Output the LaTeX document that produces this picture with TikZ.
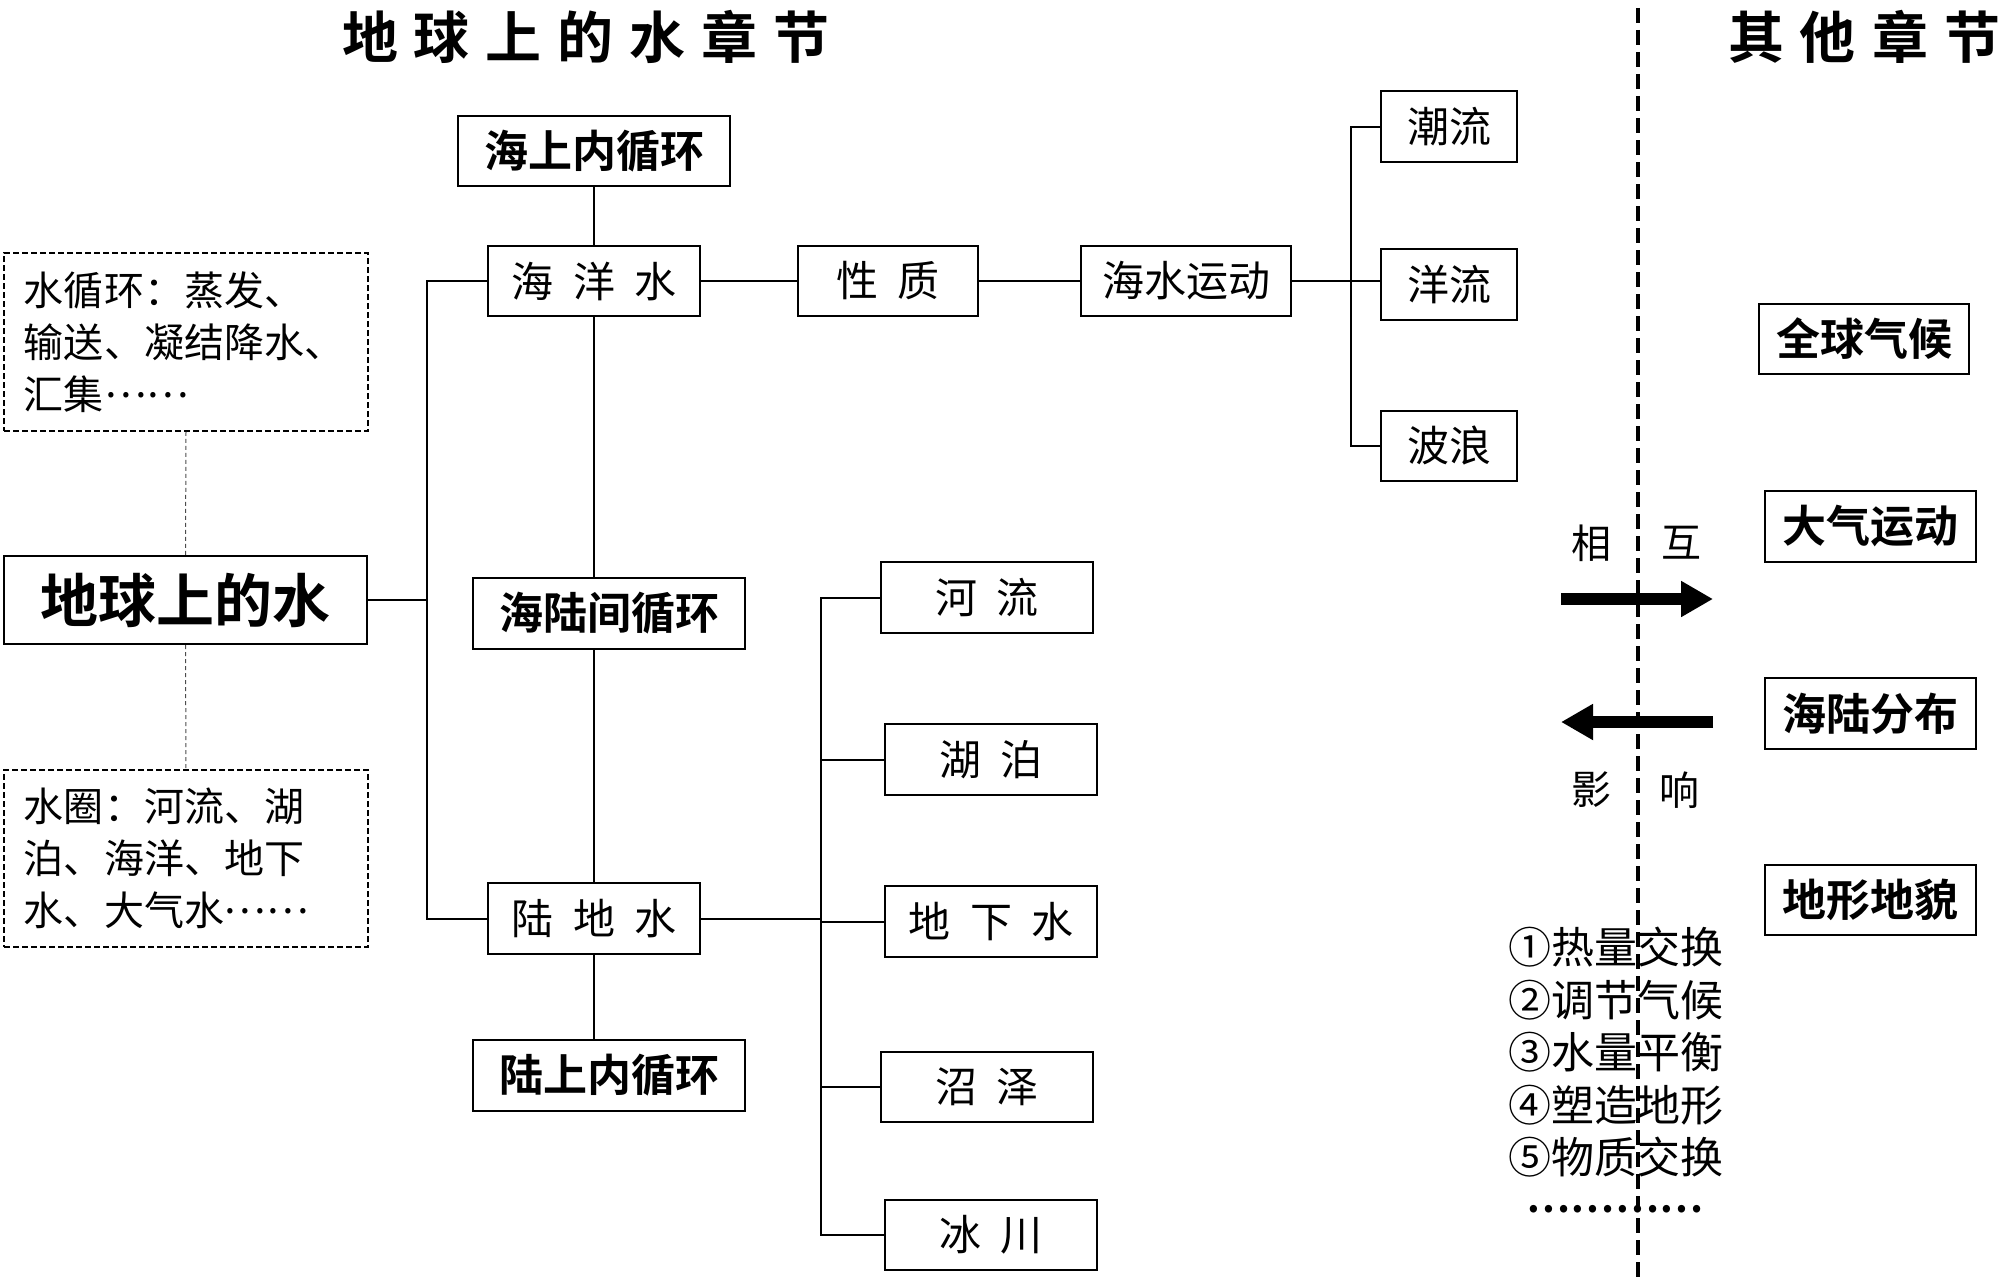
\documentclass[tikz,border=0pt]{standalone}
\usepackage{fontspec}
\setmainfont{Noto Sans CJK SC}[BoldFont={Noto Sans CJK SC Bold}]
\usetikzlibrary{arrows.meta}
\newcommand\kg{\hspace{0.47em}}
\newcommand\tg{\hspace{8pt}}
\newcommand\middots{\raisebox{0.3em}{……}}
\begin{document}
\begin{tikzpicture}[x=0.5pt,y=-0.5pt,
  box/.style={draw, line width=1.2pt, inner sep=0pt, font=\fontsize{21}{21}\selectfont},
  bbox/.style={box, font=\fontsize{22}{22}\selectfont\bfseries},
  conn/.style={line width=1pt},
  thindash/.style={line width=0.5pt, draw=black!70, dash pattern=on 2pt off 1.5pt},
  notebox/.style={draw, line width=0.8pt, dash pattern=on 3pt off 1.5pt, inner xsep=10pt, inner ysep=0pt,
    text width=162pt, align=left, font=\fontsize{20}{26}\selectfont},
  divider/.style={line width=2.2pt, dash pattern=on 7.5pt off 3.5pt},
  bigarrow/.style={line width=6pt, -{Triangle[length=16pt,width=17pt]}},
  title/.style={font=\fontsize{28}{28}\selectfont\bfseries, inner sep=0pt},
  lbl/.style={font=\fontsize{20}{20}\selectfont, inner sep=0pt}
]
\useasboundingbox (0,0) rectangle (2000,1279);

% titles
\node[title] (t1) at (586,37) {地\tg 球\tg 上\tg 的\tg 水\tg 章\tg 节};
\node[title] (t2) at (1864,37) {其\tg 他\tg 章\tg 节};

% divider
\coordinate (dtop) at (1638,8);
\coordinate (dbot) at (1638,1279);
\draw[divider] (dtop) -- (dbot);

% left notes and root
\node[notebox, minimum height=89pt] (sxh) at (186,342) {水循环：蒸发、\\输送、凝结降水、\\汇集\middots};
\node[bbox, minimum width=181.5pt, minimum height=44pt, font=\fontsize{29}{29}\selectfont\bfseries] (root) at (185.5,600) {地球上的水};
\node[notebox, minimum height=88.5pt] (sq) at (186,858.5) {水圈：河流、湖\\泊、海洋、地下\\水、大气水\middots};

% main column
\node[bbox, minimum width=136pt, minimum height=35pt] (hs) at (594,151) {海上内循环};
\node[box, minimum width=106pt, minimum height=35pt] (hy) at (594,281) {海\kg 洋\kg 水};
\node[bbox, minimum width=136pt, minimum height=35.5pt] (hlj) at (609,613.5) {海陆间循环};
\node[box, minimum width=106pt, minimum height=35.5pt] (ld) at (594,918.5) {陆\kg 地\kg 水};
\node[bbox, minimum width=136pt, minimum height=35.5pt] (ls) at (609,1075.5) {陆上内循环};

% ocean branch
\node[box, minimum width=90pt, minimum height=35pt] (xz) at (888,281) {性\kg 质};
\node[box, minimum width=105pt, minimum height=35pt] (hsyd) at (1186,281) {海水运动};
\node[box, minimum width=68pt, minimum height=35.5pt] (cl) at (1449,126.5) {潮流};
\node[box, minimum width=68pt, minimum height=35.5pt] (yl) at (1449,284.5) {洋流};
\node[box, minimum width=68pt, minimum height=35pt] (bl) at (1449,446) {波浪};

% land branch
\node[box, minimum width=106pt, minimum height=35.5pt] (hl2) at (987,597.5) {河\kg 流};
\node[box, minimum width=106pt, minimum height=35.5pt] (hp) at (991,759.5) {湖\kg 泊};
\node[box, minimum width=106pt, minimum height=35.5pt] (dxs) at (991,921.5) {地\kg 下\kg 水};
\node[box, minimum width=106pt, minimum height=35pt] (zz) at (987,1087) {沼\kg 泽};
\node[box, minimum width=106pt, minimum height=35pt] (bc) at (991,1235) {冰\kg 川};

% other chapters
\node[bbox, minimum width=105pt, minimum height=35pt] (qq) at (1864,339) {全球气候};
\node[bbox, minimum width=105.5pt, minimum height=35.5pt] (dq) at (1870.5,526.5) {大气运动};
\node[bbox, minimum width=105.5pt, minimum height=35.5pt] (hlfb) at (1870.5,713.5) {海陆分布};
\node[bbox, minimum width=105.5pt, minimum height=35pt] (dx) at (1870.5,900) {地形地貌};

% interaction labels and arrows
\node[lbl] (xiang) at (1591,543) {相};
\node[lbl] (hu) at (1681,543) {互};
\node[lbl] (ying) at (1591,790) {影};
\node[lbl] (xiang2) at (1679,790) {响};
\coordinate (r1) at (1561,599);
\coordinate (r2) at (1713,599);
\draw[bigarrow] (r1) -- (r2);
\coordinate (l1) at (1713,722);
\coordinate (l2) at (1561,722);
\draw[bigarrow] (l1) -- (l2);

\node[align=left, inner sep=0pt, font=\fontsize{21.5}{26.25}\selectfont] (list) at (1616,1052.5)
  {①热量交换\\②调节气候\\③水量平衡\\④塑造地形\\⑤物质交换};
\node[inner sep=0pt, font=\fontsize{20}{20}\selectfont\bfseries] (dots) at (1615,1209) {…………};

% connectors
\draw[thindash] (sxh.south) -- (root.north);
\draw[thindash] (root.south) -- (sq.north);
\coordinate (tx) at (427,600);
\draw[conn] (root.east) -- (tx);
\draw[conn] (hy.west) -| (tx) |- (ld.west);
\draw[conn] (hs) -- (hy);
\draw[conn] (hy.south) -- (hy.south |- hlj.north);
\draw[conn] (hy.south |- hlj.south) -- (ld.north);
\draw[conn] (ld.south) -- (ld.south |- ls.north);
\draw[conn] (hy) -- (xz);
\draw[conn] (xz) -- (hsyd);
\coordinate (sx) at (1351,281);
\draw[conn] (hsyd.east) -- (hsyd.east -| yl.west);
\draw[conn] (cl.west) -| (sx) |- (bl.west);
\coordinate (lx) at (821,918.5);
\draw[conn] (ld.east) -- (lx);
\draw[conn] (hl2.west) -| (lx) |- (bc.west);
\draw[conn] (hp.west) -- (hp.west -| lx);
\draw[conn] (dxs.west) -- (dxs.west -| lx);
\draw[conn] (zz.west) -- (zz.west -| lx);
\end{tikzpicture}
\end{document}
